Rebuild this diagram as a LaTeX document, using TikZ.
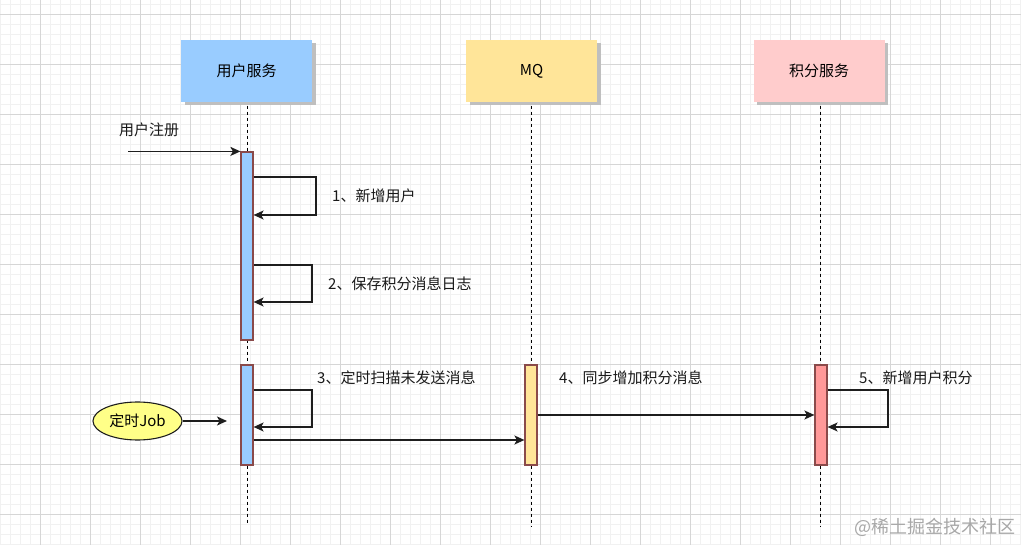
\documentclass[tikz,border=0pt]{standalone}
\usepackage{fontspec}
\setmainfont{Noto Sans CJK SC}
\usetikzlibrary{arrows.meta,shapes.geometric}
\definecolor{gridminor}{HTML}{F1F1F1}
\definecolor{gridmajor}{HTML}{D6D6D6}
\definecolor{userfill}{HTML}{99CCFF}
\definecolor{mqfill}{HTML}{FFE599}
\definecolor{jffill}{HTML}{FFCCCC}
\definecolor{jfbarfill}{HTML}{FF9999}
\definecolor{barline}{HTML}{8A4A4A}
\definecolor{jobfill}{HTML}{FFFF88}
\definecolor{linecol}{HTML}{1E1E1E}
\definecolor{wmark}{HTML}{A8A8A8}
\begin{document}
\begin{tikzpicture}[x=1pt,y=-1pt,
  header/.style={rectangle, minimum width=131pt, minimum height=62pt, inner sep=0pt,
    font=\fontsize{15}{17}\selectfont},
  shadowbox/.style={rectangle, minimum width=131pt, minimum height=62pt, inner sep=0pt, fill=black!25},
  actbar/.style={rectangle, draw=barline, line width=1.2pt, minimum width=12pt, inner sep=0pt},
  lifeline/.style={draw=black, line width=1pt, dash pattern=on 3pt off 3pt},
  msg/.style={draw=linecol, line width=1.4pt, -{Stealth[length=10pt,width=9pt,inset=2.5pt]}},
  lbl/.style={font=\fontsize{15}{17}\selectfont, inner sep=0pt, anchor=west, text=black!90}
]
\useasboundingbox (0,0) rectangle (1021,545);
\fill[white] (0,0) rectangle (1021,545);
% grid
\foreach \x in {0,10,...,1020} \draw[gridminor, line width=0.8pt] (\x,0) -- (\x,545);
\foreach \y in {4,14,...,544} \draw[gridminor, line width=0.8pt] (0,\y) -- (1021,\y);
\foreach \x in {40,90,...,1020} \draw[gridmajor, line width=0.8pt] (\x,0) -- (\x,545);
\foreach \y in {14,64,...,544} \draw[gridmajor, line width=0.8pt] (0,\y) -- (1021,\y);

% header shadows
\node[shadowbox] (usersh) at (250,74.5) {};
\node[shadowbox] (mqsh) at (535,74.5) {};
\node[shadowbox] (jfsh) at (822.5,74.5) {};
% headers
\node[header, fill=userfill] (user) at (246.5,71) {用户服务};
\node[header, fill=mqfill] (mq) at (531.5,71) {MQ};
\node[header, fill=jffill] (jf) at (819,71) {积分服务};

% lifeline ends
\coordinate (userend) at (247,525);
\coordinate (mqend) at (531,526);
\coordinate (jfend) at (820,526);
\draw[lifeline] (usersh.south -| userend) -- (userend);
\draw[lifeline] (mqsh.south -| mqend) -- (mqend);
\draw[lifeline] (jfsh.south -| jfend) -- (jfend);

% activation bars
\node[actbar, fill=userfill, minimum height=188pt] (b1) at (247,246) {};
\node[actbar, fill=userfill, minimum height=100pt] (b2) at (247,415) {};
\node[actbar, fill=mqfill, minimum height=100pt] (mqbar) at (531,415) {};
\node[actbar, fill=jfbarfill, minimum height=100pt] (jfbar) at (821,415) {};

% job ellipse
\node[ellipse, draw=linecol, line width=1.1pt, fill=jobfill, minimum width=89pt, minimum height=38pt,
  inner sep=0pt, font=\fontsize{15}{17}\selectfont] (job) at (137.5,421) {定时Job};

% coordinates for free ends and loops
\coordinate (regstart) at (128,152);
\coordinate (jobend) at (227,421);
\coordinate (l1) at (316,177);
\coordinate (l1b) at (316,215);
\coordinate (l2) at (312,265);
\coordinate (l2b) at (312,302);
\coordinate (l3) at (312,390);
\coordinate (l3b) at (312,427);
\coordinate (y440) at (0,440);
\coordinate (l5) at (888,390);
\coordinate (l5b) at (888,427);

% messages
\draw[msg] (b1.north west -| regstart) -- (b1.north west);
\draw[msg] (b1.east |- l1) -- (l1) -- (l1b) -- (b1.east |- l1b);
\draw[msg] (b1.east |- l2) -- (l2) -- (l2b) -- (b1.east |- l2b);
\draw[msg] (job.east) -- (jobend);
\draw[msg] (b2.east |- l3) -- (l3) -- (l3b) -- (b2.east |- l3b);
\draw[msg] (b2.east |- y440) -- (mqbar.west |- y440);
\draw[msg] (mqbar.east) -- (jfbar.west);
\draw[msg] (jfbar.east |- l5) -- (l5) -- (l5b) -- (jfbar.east |- l5b);

% labels
\node[lbl] (t0) at (119,130) {用户注册};
\node[lbl] (t1) at (332,196) {1、新增用户};
\node[lbl] (t2) at (328,284) {2、保存积分消息日志};
\node[lbl] (t3) at (317,378) {3、定时扫描未发送消息};
\node[lbl] (t4) at (559,378) {4、同步增加积分消息};
\node[lbl] (t5) at (859,378) {5、新增用户积分};

% watermark
\node[anchor=east, inner sep=0pt, text=wmark, font=\fontsize{18}{20}\selectfont] (wm) at (1016,527) {@稀土掘金技术社区};
\end{tikzpicture}
\end{document}
